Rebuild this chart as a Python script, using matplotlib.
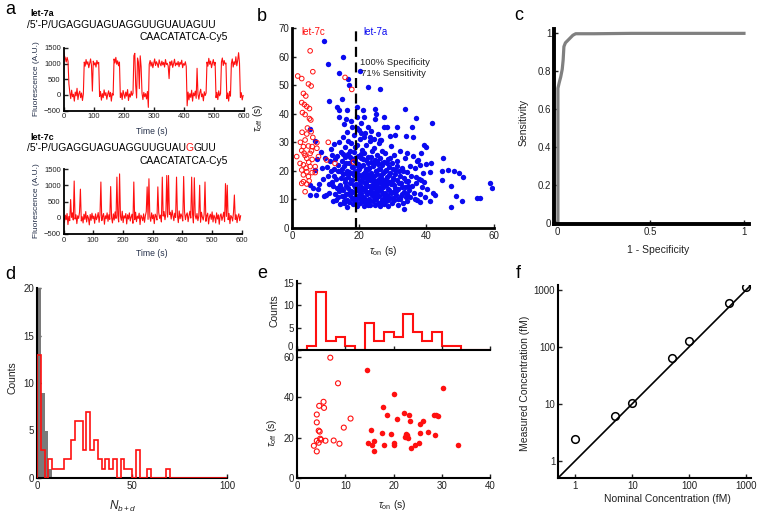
import numpy as np
import matplotlib
matplotlib.use('Agg')
import matplotlib.pyplot as plt

plt.rcParams['font.family'] = ['Liberation Sans', 'DejaVu Sans']
plt.rcParams['mathtext.fontset'] = 'custom'
plt.rcParams['mathtext.rm'] = 'Liberation Sans'
plt.rcParams['mathtext.it'] = 'Liberation Sans:italic'
plt.rcParams['mathtext.bf'] = 'Liberation Sans:bold'

# ---------------- data ----------------
# panel a: fluorescence traces sampled every 3 s (0..597 s)
trace_dt = 3.0
trace_7a = [
    1420, 1250, 1180, 1050, 1200, 1080, 350, 80, -120, 150,
    -60, 20, -200, 90, -30, 210, -150, 40, 120, -90,
    60, -180, 30, 1050, 920, 1130, 980, 1060, 870, 1010,
    1150, 940, 120, 1080, 960, 1030, 890, 1100, 990, 1040,
    -50, 110, -170, 40, -90, 160, -20, 70, -140, 20,
    130, -60, 80, -200, 50, -10, 1150, 1020, 1200, 980,
    1090, 930, 1050, -80, 60, -150, 140, 10, -110, 90,
    -40, 170, -180, 30, -70, 120, -20, 50, 1250, 1330,
    300, -100, 1180, 1050, 200, 1250, 900, 50, -150, 80,
    -60, 40, -130, 110, -400, 980, 1100, 920, 1050, 870,
    1010, 1150, 940, 1060, 990, 880, 1120, 1000, 930, 1080,
    960, 1040, 890, 1130, 970, 1010, 920, 520, 1060, 950,
    1090, 880, 1000, 1140, 930, 1020, 960, 1070, 900, 1040,
    980, 1110, 870, 1000, 950, 1060, 910, -350, 90, -160,
    40, -80, 150, -200, 60, -30, 120, -110, 850, 20,
    -140, 70, 180, -60, 30, -190, 100, -20, 60, 1050,
    920, 1170, 980, 1080, 870, 1010, 1130, 950, 1040, -90,
    80, -150, 130, -30, 40, 1050, 1180, 940, 1100, 990,
    1020, -120, 60, -200, 110, -40, 1000, 1150, 890, 1060,
    970, 1220, 930, 1100, 1350, 1020, -80, 70, -160, -20]
trace_7c = [
    20, -150, 80, -60, 130, -210, 40, -90, 560, 10,
    150, -70, 1130, -40, 90, -180, 60, -20, 170, 880,
    -100, 30, -160, 110, -50, 190, -130, 70, -10, -220,
    100, -80, 140, -30, 50, -170, 120, -60, 20, 160,
    -140, 80, 1100, -90, 40, 130, -200, 60, -30, 150,
    -110, 90, -50, 960, 10, -160, 120, -70, 180, -20,
    1250, 70, -130, 1350, 40, -80, 200, -150, 60, -10,
    130, -190, 90, -40, 150, -100, 20, 110, -170, 1100,
    -60, 170, -120, 50, -20, 140, -210, 80, 10, -90,
    120, -140, 60, 190, 950, -50, 1200, 30, -110, 150,
    -30, 90, -180, 110, 40, -70, 950, 160, -20, 80,
    -130, 1250, 50, 190, -60, 120, 1300, 20, 1300, 100,
    170, -40, 230, 60, -90, 140, 10, 1250, 80, -150,
    210, -30, 120, 40, -100, 1270, 180, -60, 90, 150,
    -120, 60, 200, -10, 1250, 110, -160, 1230, 70, -40,
    130, -90, 50, 1000, -140, 170, 20, -70, 100, 1100,
    -110, 60, 140, -190, 30, 110, -50, 180, -130, 80,
    10, -160, 150, -40, 90, -200, 60, 120, -80, 30,
    170, -120, 1050, 40, 1000, -60, 130, -180, 70, 20,
    -100, 160, 700, -50, 90, -150, 40, 120, -90, 60]

# panel b: dwell times (tau_on, tau_off) in s
let7c_pts = [
    (5.4, 62.0), (6.2, 54.7), (1.7, 53.2), (2.9, 52.3), (4.9, 50.4), (5.7, 49.7),
    (3.4, 47.1), (4.1, 46.2), (2.9, 43.9), (3.7, 43.2), (4.4, 42.5), (5.2, 41.8),
    (3.1, 40.4), (3.9, 39.7), (5.2, 38.3), (5.6, 37.8), (5.7, 33.7), (4.4, 32.9),
    (6.2, 31.7), (3.9, 30.8), (7.4, 29.9), (3.4, 28.5), (4.9, 28.7), (6.0, 28.5),
    (2.9, 27.1), (5.4, 26.1), (3.9, 25.4), (1.4, 25.0), (4.4, 24.4), (6.0, 24.0),
    (2.4, 22.6), (3.4, 22.1), (5.4, 21.5), (6.9, 21.5), (2.9, 20.3), (4.4, 19.7),
    (6.0, 19.4), (3.4, 18.6), (4.9, 18.0), (6.9, 19.4), (3.4, 16.2), (4.4, 15.4),
    (2.9, 15.6), (3.9, 12.7), (10.3, 23.8), (12.8, 22.6), (15.8, 52.7), (17.8, 48.5),
    (18.3, 23.1), (10.8, 30.0), (7.9, 25.0), (7.4, 27.9), (4.6, 35.0), (3.0, 33.5),
    (5.0, 23.0), (2.5, 30.0), (5.8, 27.0), (4.2, 21.0), (3.6, 26.2), (5.1, 16.5)]
let7a_pts = [
    (9.6, 65.6), (15.1, 60.0), (10.6, 57.3), (20.1, 55.1), (14.1, 54.4), (16.6, 52.0),
    (17.0, 50.1), (22.6, 49.5), (26.3, 48.8), (14.8, 45.3), (11.0, 44.6), (13.3, 42.2),
    (13.9, 41.3), (16.3, 41.3), (19.5, 42.2), (21.1, 41.3), (33.5, 41.5), (14.1, 38.7),
    (16.1, 38.3), (17.5, 37.6), (19.5, 39.0), (21.3, 39.0), (24.6, 41.5), (24.9, 39.9),
    (24.8, 38.3), (36.8, 38.4), (15.6, 36.4), (17.8, 35.5), (20.6, 36.6), (27.5, 38.7),
    (27.5, 35.5), (28.3, 35.2), (31.3, 35.2), (35.7, 35.2), (41.7, 36.9), (21.8, 33.1),
    (19.9, 34.3), (23.3, 31.7), (29.3, 32.2), (26.6, 30.8), (30.7, 32.6), (34.0, 32.3),
    (36.0, 31.7), (39.2, 29.1), (39.8, 28.2), (41.5, 22.9), (45.0, 24.4), (44.8, 20.1),
    (46.5, 20.3), (48.1, 20.1), (49.7, 19.1), (50.9, 18.0), (44.7, 16.8), (42.0, 12.4),
    (42.7, 11.6), (47.4, 14.7), (50.7, 9.3), (48.9, 11.2), (47.4, 7.2), (55.1, 10.4),
    (56.1, 10.4), (59.1, 15.9), (59.6, 13.9), (41.2, 9.6), (38.2, 9.1), (36.7, 10.0),
    (33.4, 6.5), (38.0, 22.0), (37.2, 23.6), (36.9, 17.7), (38.4, 16.8), (41.2, 19.7),
    (34.2, 26.1),
    (10.2, 11.5), (10.8, 18.2), (11.3, 23.5), (11.6, 27.8), (12.1, 14.7), (12.4, 20.6),
    (12.9, 11.9), (13.1, 17.3), (13.5, 25.2), (13.8, 22.1), (13.9, 12.8), (10.5, 21.4),
    (11.9, 16.1), (12.6, 29.4), (13.2, 9.8), (11.1, 12.3), (14.2, 19.8), (14.4, 15.1),
    (14.6, 26.7), (14.8, 11.1), (14.1, 30.2), (14.9, 23.4),
    (15.1, 13.4), (15.2, 18.9), (15.4, 9.6), (15.5, 21.7), (15.7, 28.3), (15.8, 16.2),
    (15.9, 24.8), (16.0, 11.8), (16.2, 14.6), (16.3, 20.1), (16.5, 7.5), (16.6, 26.0),
    (16.7, 17.8), (16.9, 12.3), (17.0, 22.9), (17.1, 9.2), (17.2, 15.7), (17.4, 19.3),
    (17.5, 29.6), (17.6, 13.1), (17.8, 24.1), (17.9, 10.5), (15.3, 31.8), (16.4, 33.5),
    (16.8, 30.6), (15.6, 8.7), (16.1, 19.2), (17.3, 27.1),
    (18.0, 16.8), (18.1, 8.3), (18.2, 21.4), (18.3, 12.7), (18.5, 18.4), (18.6, 26.5),
    (18.7, 14.2), (18.8, 9.9), (18.9, 23.3), (19.0, 11.3), (19.1, 19.9), (19.2, 15.5),
    (19.3, 29.1), (19.4, 7.8), (19.5, 17.6), (19.6, 22.5), (19.7, 13.6), (19.8, 25.3),
    (19.9, 10.4), (20.0, 20.7), (20.1, 15.0), (20.2, 31.2), (20.3, 8.6), (20.4, 18.1),
    (20.5, 12.1), (20.6, 24.4), (20.7, 27.3), (20.8, 16.3), (20.9, 9.5), (18.4, 32.7),
    (19.5, 34.9), (20.4, 33.1), (18.7, 28.2), (19.9, 13.0), (20.6, 21.8),
    (21.0, 14.1), (21.1, 22.0), (21.2, 11.0), (21.3, 17.9), (21.4, 7.6), (21.5, 26.1),
    (21.6, 19.6), (21.7, 13.3), (21.8, 9.0), (21.9, 23.7), (22.0, 16.0), (22.1, 28.9),
    (22.2, 11.9), (22.3, 20.3), (22.4, 14.8), (22.5, 8.2), (22.6, 25.0), (22.7, 18.6),
    (22.8, 12.6), (22.9, 21.1), (23.0, 10.1), (23.1, 16.7), (23.2, 30.5), (23.3, 7.9),
    (23.4, 23.0), (23.5, 14.0), (23.6, 19.2), (23.7, 11.5), (23.8, 26.8), (23.9, 17.2),
    (21.3, 32.0), (22.5, 35.3), (23.6, 33.8), (21.9, 15.4), (23.0, 20.9), (22.2, 9.7),
    (24.0, 9.4), (24.1, 21.6), (24.2, 15.3), (24.3, 12.2), (24.4, 27.9), (24.5, 18.3),
    (24.6, 8.0), (24.7, 23.9), (24.8, 13.9), (24.9, 20.0), (25.0, 10.7), (25.1, 16.4),
    (25.2, 25.7), (25.3, 12.9), (25.4, 19.0), (25.5, 8.9), (25.6, 22.4), (25.7, 14.5),
    (25.8, 29.7), (25.9, 17.1), (26.0, 11.2), (26.1, 20.8), (26.2, 7.7), (26.3, 24.6),
    (26.4, 15.9), (26.5, 13.0), (26.6, 18.7), (26.7, 9.8), (26.8, 27.0), (26.9, 21.9),
    (24.5, 31.0), (25.6, 33.0), (26.1, 30.9), (24.9, 10.0),
    (27.0, 14.3), (27.1, 10.3), (27.2, 19.4), (27.3, 23.2), (27.4, 8.4), (27.5, 16.6),
    (27.6, 12.4), (27.7, 26.4), (27.9, 20.4), (28.0, 9.3), (28.1, 14.9), (28.2, 18.0),
    (28.4, 11.6), (28.5, 24.2), (28.6, 7.6), (28.8, 16.1), (28.9, 21.3), (29.0, 13.2),
    (29.2, 10.6), (29.3, 19.1), (29.5, 28.6), (29.6, 15.4), (29.8, 8.8), (29.9, 22.7),
    (30.0, 12.5), (30.2, 17.5), (30.3, 25.5), (30.5, 9.7), (30.7, 14.1), (30.8, 20.2),
    (31.0, 11.4), (31.2, 16.9), (31.4, 23.6), (31.5, 8.1), (31.7, 13.7), (31.9, 19.8),
    (32.1, 10.2), (32.3, 26.9), (32.5, 15.6), (32.7, 12.0), (32.9, 21.0), (33.1, 8.7),
    (33.3, 17.4), (33.5, 14.4), (33.7, 24.5), (33.9, 11.0), (34.1, 19.5), (34.3, 9.3),
    (34.5, 16.3), (34.8, 13.3), (35.0, 21.8), (35.2, 10.9), (35.5, 18.2), (35.7, 14.8),
    (35.9, 25.2),
    (36.2, 12.1), (36.5, 20.9), (36.8, 15.9), (37.1, 9.8), (37.4, 23.9), (37.7, 17.0),
    (38.0, 11.8), (38.3, 26.3), (38.6, 14.2), (38.9, 19.3), (39.3, 16.1), (39.6, 10.8),
    (40.0, 22.3), (40.3, 13.5),
    (5.5, 15.2), (5.3, 11.5), (7.0, 11.6), (9.5, 11.3), (6.8, 20.3), (7.3, 24.1),
    (6.7, 30.3), (5.5, 34.5), (8.0, 15.5), (8.8, 21.0), (9.2, 17.3), (7.6, 13.8),
    (6.2, 14.0), (8.5, 26.5), (9.8, 24.5),
    (14.3, 8.4), (14.7, 13.9), (15.0, 20.6), (15.3, 25.9), (15.6, 11.2), (15.9, 17.0),
    (16.2, 22.8), (16.4, 9.9), (16.7, 14.0), (16.9, 19.5), (17.2, 25.0), (17.4, 11.7),
    (17.7, 16.8), (17.9, 21.3), (18.2, 10.0), (18.4, 14.9), (18.6, 19.7), (18.9, 24.6),
    (19.1, 9.0), (19.3, 13.4), (19.6, 18.8), (19.8, 21.6), (20.1, 11.8), (20.3, 16.6),
    (20.5, 26.0), (20.8, 13.8), (21.0, 19.0), (21.2, 24.0), (21.5, 10.4), (21.7, 15.6),
    (21.9, 20.8), (22.1, 12.7), (22.4, 17.6), (22.6, 22.9), (22.9, 9.6), (23.1, 14.6),
    (23.3, 18.4), (23.6, 24.8), (23.8, 12.6), (24.0, 16.9), (24.3, 22.6), (24.5, 10.9),
    (24.7, 14.9), (25.0, 19.9), (25.2, 23.3), (25.4, 11.9), (25.7, 16.0), (25.9, 20.6),
    (26.2, 13.9), (26.4, 9.1), (26.6, 17.5), (26.9, 22.9), (27.1, 12.0), (27.3, 15.6),
    (27.6, 20.1), (27.8, 10.9), (28.0, 17.1), (28.3, 22.8), (28.5, 13.6), (28.7, 9.8),
    (29.0, 18.5), (29.2, 24.6), (29.5, 12.1), (29.7, 16.5), (30.0, 20.6), (30.2, 10.6),
    (30.5, 15.2), (30.8, 18.9), (31.1, 13.0), (31.3, 21.7), (31.6, 10.0), (31.9, 15.8),
    (32.2, 18.2), (32.5, 11.2), (32.8, 14.2), (33.1, 20.0), (33.4, 12.6), (33.8, 16.5),
    (34.2, 11.8), (34.6, 14.6), (12.5, 18.3), (13.3, 14.0), (13.7, 19.8), (11.5, 20.0),
    (12.8, 24.0), (13.6, 10.9), (14.5, 17.4), (10.9, 15.3), (11.8, 25.4), (12.2, 9.4)]
threshold_on = 19.2

# panel c: ROC curve
roc_fpr = [0.0, 0.005, 0.005, 0.012, 0.02, 0.028, 0.033, 0.037, 0.045, 0.055, 0.07, 0.085, 0.1, 0.2, 0.4, 0.7, 1.0]
roc_tpr = [0.0, 0.0, 0.71, 0.74, 0.77, 0.81, 0.86, 0.93, 0.95, 0.96, 0.975, 0.99, 0.998, 0.998, 1.0, 1.0, 1.0]

# panel d: histograms of N_b+d (bin width 2)
d_red_counts = [13, 3, 0, 2, 1, 1, 1, 2, 2, 4, 6, 6, 3, 7, 3, 4, 2, 1, 2, 1,
                2, 0, 2, 1, 1, 0, 3, 0, 0, 1, 0, 0, 0, 0, 1, 0, 0, 0, 0, 0,
                0, 0, 0, 0, 0, 0, 0, 0, 0, 0]
d_gray_counts = [20, 9, 5, 1]
d_bin_width = 2

# panel e: tau_on histogram (bin width 2, 0..40) and scatter
e_counts = [0, 1, 13, 2, 3, 1, 0, 6, 2, 4, 3, 8, 4, 2, 4, 1, 1, 0, 0, 0]
e_bin_width = 2
e_open = [(6.9, 59.7), (8.5, 47.0), (5.5, 37.8), (5.6, 34.8), (4.6, 35.8), (4.1, 31.5),
          (4.1, 27.6), (4.5, 23.5), (4.7, 23.0), (11.1, 29.5), (9.7, 25.0), (7.6, 18.6),
          (8.8, 17.0), (5.9, 18.5), (4.8, 19.5), (4.1, 18.5), (4.5, 17.5), (3.5, 16.0),
          (4.1, 13.2), (5.0, 19.0)]
e_filled = [(14.6, 53.5), (20.2, 41.8), (30.3, 44.6), (17.9, 35.0), (18.6, 31.3), (20.7, 29.2),
            (22.2, 32.2), (23.2, 31.1), (23.5, 28.2), (25.5, 26.7), (26.1, 28.3), (28.4, 31.5),
            (28.8, 31.2), (29.2, 30.8), (27.1, 22.8), (25.5, 22.5), (22.5, 22.0), (22.6, 21.0),
            (22.4, 20.3), (23.0, 19.6), (22.7, 21.5), (17.7, 22.3), (19.4, 22.0), (15.3, 23.6),
            (14.7, 17.5), (15.5, 16.3), (16.0, 18.2), (15.9, 13.2), (18.1, 16.2), (20.0, 17.4),
            (20.1, 16.4), (23.7, 14.7), (24.5, 16.6), (25.2, 17.4), (28.5, 21.4), (33.4, 16.6)]

# panel f: calibration
f_nominal = [1, 5, 10, 50, 100, 500, 1000]
f_measured = [2.4, 6.0, 10.5, 62, 125, 570, 1100]
f_ident = [0.5, 1200]

# ---------------- figure ----------------
W, H = 764, 520
fig = plt.figure(figsize=(W / 100, H / 100), dpi=100)
RED = '#ff1010'
BLUE = '#0a0af0'
TXT = '#222222'


def add_ax(l, t, r, b):
    return fig.add_axes([l / W, 1 - b / H, (r - l) / W, (b - t) / H])


def style(ax, lw=1.5, ls=7):
    for s in ['top', 'right']:
        ax.spines[s].set_visible(False)
    for s in ['left', 'bottom']:
        ax.spines[s].set_linewidth(lw)
        ax.spines[s].set_color('black')
    ax.tick_params(direction='in', length=3, width=1, labelsize=ls, colors=TXT, pad=2)
    ax.set_facecolor('none')


def ptxt(x, y, s, **kw):
    kw.setdefault('color', TXT)
    return fig.text(x / W, 1 - y / H, s, **kw)


# panel letters
for lx, ly, lab in [(5, 14, 'a'), (257, 21, 'b'), (514, 20, 'c'),
                    (5, 279, 'd'), (257, 278, 'e'), (516, 278, 'f')]:
    ptxt(lx, ly, lab, fontsize=13, va='baseline', ha='left', color='black')

# ---- panel a ----
t = np.arange(len(trace_7a)) * trace_dt
ax = add_ax(63.5, 48, 244, 110.5)
style(ax, lw=1.3, ls=5.5)
ax.plot(t, trace_7a, color=RED, lw=0.8)
ax.set_xlim(0, 600)
ax.set_ylim(-500, 1500)
ax.set_xticks(range(0, 601, 100))
ax.set_yticks([-500, 0, 500, 1000, 1500])

t2 = np.arange(len(trace_7c)) * trace_dt
ax = add_ax(63.5, 169, 241.5, 234)
style(ax, lw=1.3, ls=5.5)
ax.plot(t2, trace_7c, color=RED, lw=0.8)
ax.set_xlim(0, 600)
ax.set_ylim(-500, 1500)
ax.set_xticks(range(0, 601, 100))
ax.set_yticks([-500, 0, 500, 1000, 1500])

LBL = '#25304a'
ptxt(36, 79, 'Fluorescence (A.U.)', rotation=90, ha='center', va='center', fontsize=6, color=LBL)
ptxt(36, 201, 'Fluorescence (A.U.)', rotation=90, ha='center', va='center', fontsize=6, color=LBL)
ptxt(152, 131, 'Time (s)', ha='center', va='center', fontsize=6.2, color=LBL)
ptxt(152, 254, 'Time (s)', ha='center', va='center', fontsize=6.2, color=LBL)

SEQ_FS = 7.4
ptxt(30, 14, 'let-7a', fontsize=6.5, fontweight='bold', va='center', color='black')
ptxt(27, 25, "/5'-P/UGAGGUAGUAGGUUGUAUAGUU", fontsize=SEQ_FS, va='center', color='black')
ptxt(228, 37, 'CAACATATCA-Cy5', fontsize=SEQ_FS, va='center', ha='right', color='black')

ptxt(30, 137, 'let-7c', fontsize=6.5, fontweight='bold', va='center', color='black')
renderer = fig.canvas.get_renderer()
t1 = ptxt(27, 148, "/5'-P/UGAGGUAGUAGGUUGUAU", fontsize=SEQ_FS, va='center', color='black')
bb = t1.get_window_extent(renderer=renderer)
tg = fig.text(bb.x1 / W, 1 - 148 / H, 'G', fontsize=SEQ_FS, va='center', color=RED)
bb2 = tg.get_window_extent(renderer=renderer)
fig.text(bb2.x1 / W, 1 - 148 / H, 'GUU', fontsize=SEQ_FS, va='center', color='black')
ptxt(228, 161, 'CAACATATCA-Cy5', fontsize=SEQ_FS, va='center', ha='right', color='black')

# ---- panel b ----
ax = add_ax(292, 28, 493.5, 228)
style(ax, lw=2.0)
bx = [p[0] for p in let7a_pts]
by = [p[1] for p in let7a_pts]
ax.scatter(bx, by, s=15, color=BLUE, linewidths=0, zorder=3)
cx = [p[0] for p in let7c_pts]
cy = [p[1] for p in let7c_pts]
ax.scatter(cx, cy, s=11, facecolors='none', edgecolors=RED, linewidths=0.7, zorder=4)
ax.plot([threshold_on, threshold_on], [0, 69.5], color='black', lw=1.6, dashes=(4.5, 2.5), zorder=5)
ax.set_xlim(0, 60)
ax.set_ylim(0, 70)
ax.set_xticks([0, 20, 40, 60])
ax.set_yticks(range(0, 71, 10))
ax.text(2.9, 68.7, 'let-7c', color=RED, fontsize=7, va='center', ha='left')
ax.text(21.3, 68.7, 'let-7a', color=BLUE, fontsize=7, va='center', ha='left')
ax.text(20.3, 57.9, '100% Specificity', color=TXT, fontsize=6.8, va='center', ha='left')
ax.text(20.6, 53.9, '71% Sensitivity', color=TXT, fontsize=6.8, va='center', ha='left')
ptxt(383, 251, r'$\tau_{\rm on}$ (s)', ha='center', va='center', fontsize=7.5)
ptxt(258, 118, r'$\tau_{\rm off}$ (s)', ha='center', va='center', fontsize=7.5, rotation=90)

# ---- panel c ----
ax = add_ax(554, 29, 749, 224)
style(ax, lw=2.8)
ax.plot(roc_fpr, roc_tpr, color='#808080', lw=2.3, solid_joinstyle='round')
ax.set_xlim(-0.016, 1.027)
ax.set_ylim(-0.007, 1.023)
ax.set_xticks([0, 0.5, 1])
ax.set_xticklabels(['0', '0.5', '1'])
ax.set_yticks([0, 0.2, 0.4, 0.6, 0.8, 1])
ax.set_yticklabels(['0', '0.2', '0.4', '0.6', '0.8', '1'])
ptxt(658, 250, '1 - Specificity', ha='center', va='center', fontsize=7.5)
ptxt(524, 122, 'Sensitivity', ha='center', va='center', fontsize=7.5, rotation=90)

# ---- panel d ----
ax = add_ax(37, 288, 227, 478)
style(ax, lw=1.5)
gedges = np.arange(len(d_gray_counts) + 1) * d_bin_width
ax.stairs(d_gray_counts, gedges, fill=True, color='#7a7a7a', zorder=2)
redges = np.arange(len(d_red_counts) + 1) * d_bin_width
ax.stairs(d_red_counts, redges, color=RED, lw=1.2, zorder=3)
ax.set_xlim(0, 100)
ax.set_ylim(0, 20)
ax.set_xticks([0, 50, 100])
ax.set_yticks([0, 5, 10, 15, 20])
ptxt(123, 506, r'$N_{b+d}$', ha='center', va='center', fontsize=8.5)
ptxt(13, 378, 'Counts', ha='center', va='center', fontsize=7.5, rotation=90)

# ---- panel e ----
ax = add_ax(297, 281, 490, 350)
style(ax, lw=1.5)
eedges = np.arange(len(e_counts) + 1) * e_bin_width
ax.stairs(e_counts, eedges, color=RED, lw=1.5)
ax.set_xlim(0, 40)
ax.set_ylim(0, 15.45)
ax.set_xticks([0, 10, 20, 30, 40])
ax.set_xticklabels([])
ax.set_yticks([0, 5, 10, 15])
ax.set_yticklabels(['', '5', '10', '15'])
ptxt(293, 347, '0', ha='right', va='center', fontsize=7)

ax = add_ax(297, 347, 490, 478)
style(ax, lw=1.5)
ax.scatter([p[0] for p in e_open], [p[1] for p in e_open], s=13, facecolors='none',
           edgecolors=RED, linewidths=0.8)
ax.scatter([p[0] for p in e_filled], [p[1] for p in e_filled], s=16, color=RED, linewidths=0)
ax.set_xlim(0, 40)
ax.set_ylim(0, 65)
ax.set_xticks([0, 10, 20, 30, 40])
ax.set_yticks([0, 20, 40, 60])
ptxt(392, 505, r'$\tau_{\rm on}$ (s)', ha='center', va='center', fontsize=7.5)
ptxt(272, 433, r'$\tau_{\rm off}$ (s)', ha='center', va='center', fontsize=7.5, rotation=90)
ptxt(274, 311, 'Counts', ha='center', va='center', fontsize=7.5, rotation=90)

# ---- panel f ----
ax = add_ax(558, 285, 751, 478)
style(ax, lw=1.5)
ax.set_xscale('log')
ax.set_yscale('log')
ax.plot(f_ident, f_ident, color='black', lw=1.2)
ax.plot(f_nominal, f_measured, 'o', mfc='none', mec='black', ms=5.5, mew=1.1)
ax.set_xlim(0.5, 1200)
ax.set_ylim(0.5, 1200)
ax.set_xticks([1, 10, 100, 1000])
ax.set_xticklabels(['1', '10', '100', '1000'])
ax.set_yticks([1, 10, 100, 1000])
ax.set_yticklabels(['1', '10', '100', '1000'])
ax.minorticks_off()
ptxt(667, 499, 'Nominal Concentration (fM)', ha='center', va='center', fontsize=7.5)
ptxt(525, 383, 'Measured Concentration (fM)', ha='center', va='center', fontsize=7.5, rotation=90)

fig.savefig('out.png', dpi=100)
